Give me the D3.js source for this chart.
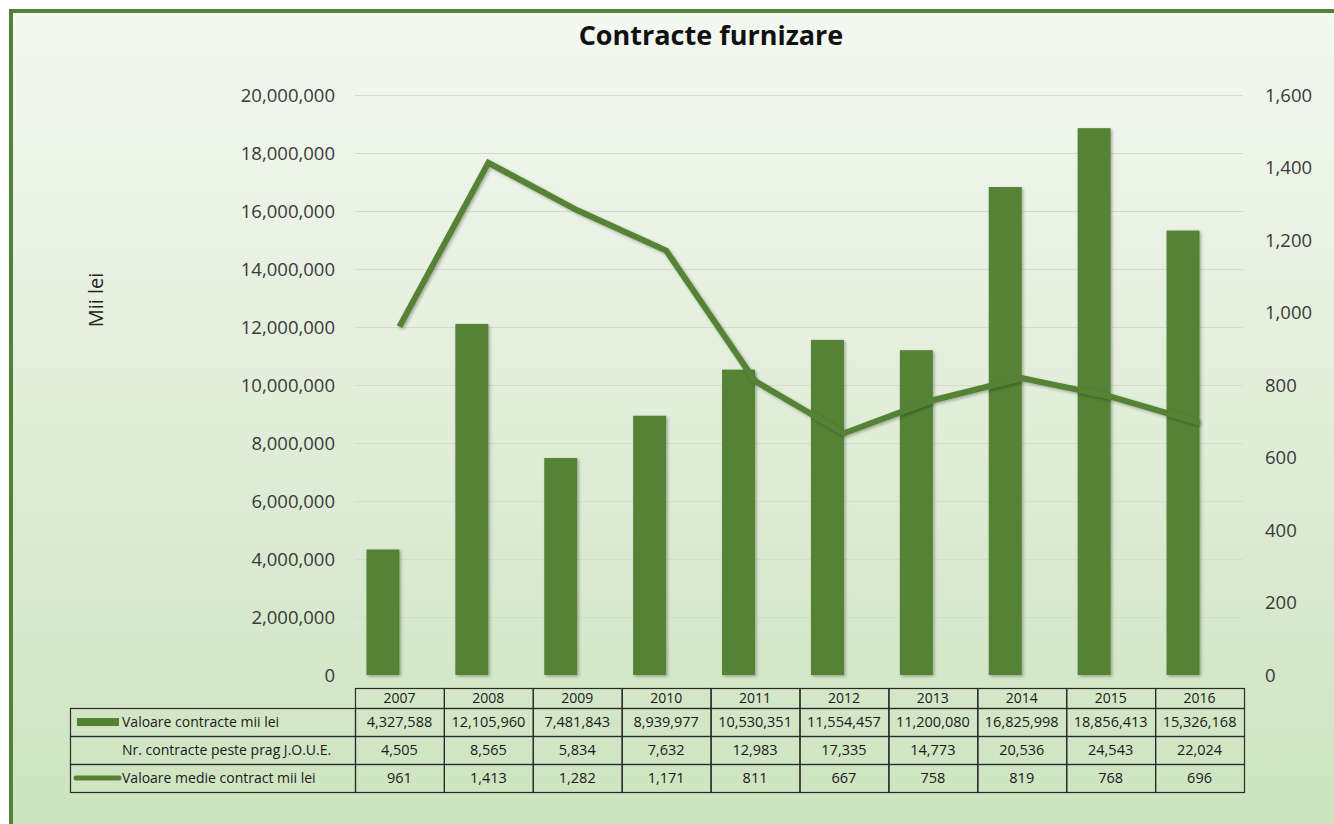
<!DOCTYPE html>
<html>
<head>
<meta charset="utf-8">
<script src="https://cdn.jsdelivr.net/npm/d3@7"></script>
<style>
html,body{margin:0;padding:0;background:#fff;}
svg{display:block;}
text{font-family:"Open Sans",sans-serif;}
</style>
</head>
<body>
<svg id="chart" width="1334" height="824"></svg>
<script>
const categories = ["2007","2008","2009","2010","2011","2012","2013","2014","2015","2016"];
const valoareContracte = [4327588,12105960,7481843,8939977,10530351,11554457,11200080,16825998,18856413,15326168];
const nrContracte = [4505,8565,5834,7632,12983,17335,14773,20536,24543,22024];
const valoareMedie = [961,1413,1282,1171,811,667,758,819,768,696];
const leftTicks = [0,2000000,4000000,6000000,8000000,10000000,12000000,14000000,16000000,18000000,20000000];
const rightTicks = [0,200,400,600,800,1000,1200,1400,1600];
const seriesNames = ["Valoare contracte mii lei","Nr. contracte peste prag J.O.U.E.","Valoare medie contract mii lei"];
const title = "Contracte furnizare";
const yTitle = "Mii lei";

const green = "#548235";
const svg = d3.select("#chart");
const defs = svg.append("defs");
const grad = defs.append("linearGradient").attr("id","bg").attr("x1",0).attr("y1",0).attr("x2",0).attr("y2",1);
grad.append("stop").attr("offset","0%").attr("stop-color","#f4f8f1");
grad.append("stop").attr("offset","50%").attr("stop-color","#dcebd3");
grad.append("stop").attr("offset","100%").attr("stop-color","#c4dfb2");
const sh = defs.append("filter").attr("id","shadow").attr("x","-20%").attr("y","-20%").attr("width","140%").attr("height","140%");
sh.append("feDropShadow").attr("dx",1.5).attr("dy",1.5).attr("stdDeviation",1.5).attr("flood-color","#000").attr("flood-opacity",0.3);

svg.append("rect").attr("x",11).attr("y",11).attr("width",1500).attr("height",1000)
  .attr("fill","url(#bg)").attr("stroke",green).attr("stroke-width",4);

const plotL = 355, plotR = 1244, plotT = 95, plotB = 675;
const x = d3.scaleBand().domain(categories).range([plotL, plotR]).padding(0);
const barW = 33;
const x1 = d3.scaleBand().domain(["v","n"]).range([x.bandwidth()/2 - barW, x.bandwidth()/2 + barW]).padding(0);
const yL = d3.scaleLinear().domain([0,20000000]).range([plotB, plotT]);
const yR = d3.scaleLinear().domain([0,1600]).range([plotB, plotT]);

// gridlines
svg.append("g").selectAll("line").data(leftTicks.slice(1)).join("line")
  .attr("x1",plotL).attr("x2",plotR-1).attr("y1",d=>yL(d)+0.5).attr("y2",d=>yL(d)+0.5)
  .attr("stroke","#d4dbcf").attr("stroke-width",1.2);

// left axis
const axL = d3.axisLeft(yL).tickValues(leftTicks).tickFormat(d3.format(",")).tickSize(0).tickPadding(0);
const gL = svg.append("g").attr("transform",`translate(${335},0)`).call(axL);
gL.select(".domain").remove();
gL.selectAll("text").attr("font-size",18.5).attr("fill","#3a3a3a").attr("font-family","Open Sans").attr("dy","0.34em");

// right axis
const axR = d3.axisRight(yR).tickValues(rightTicks).tickFormat(d3.format(",")).tickSize(0).tickPadding(0);
const gR = svg.append("g").attr("transform",`translate(${1265},0)`).call(axR);
gR.select(".domain").remove();
gR.selectAll("text").attr("font-size",18.5).attr("fill","#3a3a3a").attr("font-family","Open Sans").attr("dy","0.34em");

// bars
svg.append("g").attr("filter","url(#shadow)").selectAll("rect").data(categories).join("rect")
  .attr("x",(d)=>x(d)+x1("v"))
  .attr("width",x1.bandwidth())
  .attr("y",(d,i)=>yL(valoareContracte[i]))
  .attr("height",(d,i)=>plotB - yL(valoareContracte[i]))
  .attr("fill",green);

// line
const line = d3.line().x((d,i)=>x(categories[i])+x.bandwidth()/2).y(d=>yR(d));
svg.append("path").datum(valoareMedie).attr("d",line)
  .attr("fill","none").attr("stroke",green).attr("stroke-width",6)
  .attr("stroke-linejoin","miter").attr("stroke-linecap","butt").attr("filter","url(#shadow)");

// title
svg.append("text").attr("x",711).attr("y",45).attr("text-anchor","middle")
  .attr("font-size",27).attr("font-weight","bold").attr("fill","#111").text(title);

// y title
svg.append("text").attr("transform","translate(103,300) rotate(-90)").attr("text-anchor","middle")
  .attr("font-size",20).attr("fill","#222").text(yTitle);

// data table
const tblL = 70, hdrT = 688, hdrB = 708, rowH = 28;
const tg = svg.append("g");
const stroke = "#2a2a2a";
categories.forEach((c,i)=>{
  tg.append("rect").attr("x",x(c)+0.5).attr("y",hdrT+0.5).attr("width",x.bandwidth()).attr("height",hdrB-hdrT)
    .attr("fill","none").attr("stroke",stroke).attr("stroke-width",1.2);
  tg.append("text").attr("x",x(c)+x.bandwidth()/2).attr("y",(hdrT+hdrB)/2).attr("dy","0.36em")
    .attr("text-anchor","middle").attr("font-size",14).attr("fill","#1a1a1a").text(c);
});
const rows = [valoareContracte, nrContracte, valoareMedie];
rows.forEach((vals,r)=>{
  const top = hdrB + r*rowH;
  tg.append("rect").attr("x",tblL+0.5).attr("y",top+0.5).attr("width",plotL-tblL).attr("height",rowH)
    .attr("fill","none").attr("stroke",stroke).attr("stroke-width",1.2);
  categories.forEach((c,i)=>{
    tg.append("rect").attr("x",x(c)+0.5).attr("y",top+0.5).attr("width",x.bandwidth()).attr("height",rowH)
      .attr("fill","none").attr("stroke",stroke).attr("stroke-width",1.2);
    tg.append("text").attr("x",x(c)+x.bandwidth()/2).attr("y",top+rowH/2).attr("dy","0.36em")
      .attr("text-anchor","middle").attr("font-size",14.5).attr("fill","#1a1a1a").text(d3.format(",")(vals[i]));
  });
  tg.append("text").attr("x",122).attr("y",top+rowH/2).attr("dy","0.36em")
    .attr("font-size",14).attr("fill","#1a1a1a").text(seriesNames[r]);
});
// legend keys
tg.append("rect").attr("x",77).attr("y",hdrB+rowH/2-4).attr("width",42).attr("height",8).attr("fill",green);
tg.append("line").attr("x1",76).attr("x2",119).attr("y1",hdrB+2*rowH+rowH/2).attr("y2",hdrB+2*rowH+rowH/2)
  .attr("stroke",green).attr("stroke-width",5).attr("stroke-linecap","round");
</script>
</body>
</html>
